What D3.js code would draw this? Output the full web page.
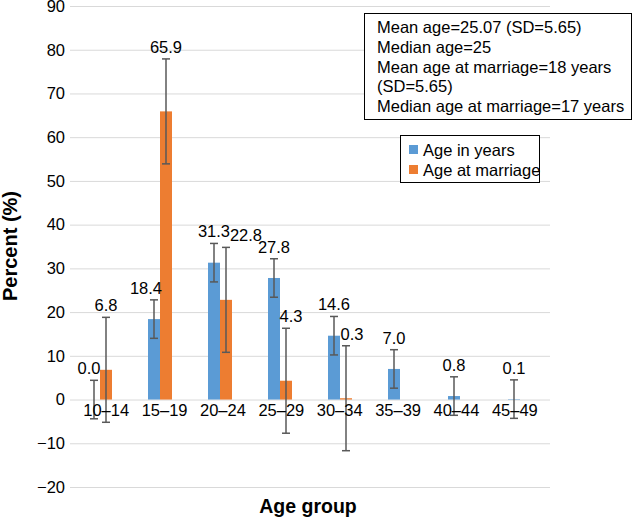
<!DOCTYPE html>
<html>
<head>
<meta charset="utf-8">
<script src="https://cdn.jsdelivr.net/npm/d3@7"></script>
<style>
  body { margin: 0; background: #fff; }
  svg { font-family: "Liberation Sans", Arial, sans-serif; }
</style>
</head>
<body>
<div id="chart"></div>
<script>
var ageGroups = ["10\u201314", "15\u201319", "20\u201324", "25\u201329", "30\u201334", "35\u201339", "40\u201344", "45\u201349"];
var ageInYears = [0.0, 18.4, 31.3, 27.8, 14.6, 7.0, 0.8, 0.1];
var ageInYearsErr = [4.4, 4.4, 4.4, 4.4, 4.4, 4.4, 4.4, 4.4];
var ageAtMarriage = [6.8, 65.9, 22.8, 4.3, 0.3, null, null, null];
var ageAtMarriageErr = [12, 12, 12, 12, 12, null, null, null];
var yTicks = [-20, -10, 0, 10, 20, 30, 40, 50, 60, 70, 80, 90];
var seriesNames = ["Age in years", "Age at marriage"];
var notes = ["Mean age=25.07 (SD=5.65)", "Median age=25", "Mean age at marriage=18 years", "(SD=5.65)", "Median age at marriage=17 years"];

var width = 633, height = 517;
var plotLeft = 70, plotRight = 550, plotTop = 6, plotBottom = 487;
var colors = ["#5b9bd5", "#ed7d31"];
var fs = 16.5;

var svg = d3.select("#chart").append("svg")
    .attr("width", width)
    .attr("height", height);

var x = d3.scaleBand()
    .domain(ageGroups)
    .range([plotLeft, plotRight]);

// category labels sit on a slightly tighter spread than the bars
var xLabel = d3.scaleBand()
    .domain(ageGroups)
    .range([plotLeft + 7, plotRight - 6]);

var y = d3.scaleLinear()
    .domain([-20, 90])
    .range([plotBottom, plotTop]);

var barW = 12;

// gridlines + y labels
var yAxis = svg.append("g")
    .attr("transform", "translate(" + plotLeft + ",0)")
    .call(d3.axisLeft(y).tickValues(yTicks).tickSize(-(plotRight - plotLeft)).tickPadding(5)
        .tickFormat(function(d){ return d < 0 ? "\u2212" + Math.abs(d) : d; }));
yAxis.select(".domain").remove();
yAxis.selectAll("line").attr("stroke", "#d9d9d9").attr("stroke-width", 1);
yAxis.selectAll("text").attr("font-size", fs).attr("fill", "#000")
    .attr("font-family", "Liberation Sans, Arial, sans-serif");

// series table
var series = [
    { name: seriesNames[0], values: ageInYears, err: ageInYearsErr, offset: -barW, color: colors[0] },
    { name: seriesNames[1], values: ageAtMarriage, err: ageAtMarriageErr, offset: 0, color: colors[1] }
];

// small nudges for labels that got pushed sideways
var labelNudge = { "0-0": -5, "0-1": -8, "1-2": 20, "1-3": 5, "1-4": 6 };

function points(s) {
    return s.values.map(function(v, i){ return { v: v, e: s.err[i], cat: ageGroups[i], i: i }; })
        .filter(function(d){ return d.v !== null; });
}

series.forEach(function(s) {
    svg.append("g").selectAll("rect")
        .data(points(s))
        .enter()
            .append("rect")
            .attr("x", function(d){ return x(d.cat) + x.bandwidth() / 2 + s.offset; })
            .attr("width", barW)
            .attr("y", function(d){ return y(Math.max(d.v, 0)); })
            .attr("height", function(d){ return Math.abs(y(d.v) - y(0)); })
            .attr("fill", s.color);
});

series.forEach(function(s, si) {
    var pts = points(s);
    var cx = function(d){ return x(d.cat) + x.bandwidth() / 2 + s.offset + barW / 2; };

    var eg = svg.append("g").attr("stroke", "#595959").attr("stroke-width", 1.5);
    eg.selectAll("line.v").data(pts).enter().append("line")
        .attr("x1", cx).attr("x2", cx)
        .attr("y1", function(d){ return y(d.v + d.e); })
        .attr("y2", function(d){ return y(d.v - d.e); });
    eg.selectAll("line.t").data(pts).enter().append("line")
        .attr("x1", function(d){ return cx(d) - 4; }).attr("x2", function(d){ return cx(d) + 4; })
        .attr("y1", function(d){ return y(d.v + d.e); })
        .attr("y2", function(d){ return y(d.v + d.e); });
    eg.selectAll("line.b").data(pts).enter().append("line")
        .attr("x1", function(d){ return cx(d) - 4; }).attr("x2", function(d){ return cx(d) + 4; })
        .attr("y1", function(d){ return y(d.v - d.e); })
        .attr("y2", function(d){ return y(d.v - d.e); });

    svg.append("g").selectAll("text")
        .data(pts)
        .enter()
            .append("text")
            .attr("x", function(d){ return cx(d) + (labelNudge[si + "-" + d.i] || 0); })
            .attr("y", function(d){ return y(d.v + d.e) - 6; })
            .attr("text-anchor", "middle")
            .attr("font-size", fs)
            .text(function(d){ return d.v.toFixed(1); });
});

// category labels at zero line
var xAxis = svg.append("g")
    .attr("transform", "translate(0," + y(0) + ")")
    .call(d3.axisBottom(xLabel).tickSize(0).tickPadding(5));
xAxis.select(".domain").remove();
xAxis.selectAll("text").attr("font-size", fs).attr("fill", "#000")
    .attr("font-family", "Liberation Sans, Arial, sans-serif");

// axis titles
svg.append("text")
    .attr("transform", "translate(17,246) rotate(-90)")
    .attr("text-anchor", "middle")
    .attr("font-size", 20)
    .attr("font-weight", "bold")
    .text("Percent (%)");

svg.append("text")
    .attr("x", 308)
    .attr("y", 513)
    .attr("text-anchor", "middle")
    .attr("font-size", 19.5)
    .attr("font-weight", "bold")
    .text("Age group");

// notes box
var nb = svg.append("g");
nb.append("rect")
    .attr("x", 364.5).attr("y", 13.5).attr("width", 267).attr("height", 106)
    .attr("fill", "#fff").attr("stroke", "#000").attr("stroke-width", 1);
nb.selectAll("text").data(notes).enter().append("text")
    .attr("x", 377)
    .attr("y", function(d, i){ return 33 + i * 19.8; })
    .attr("font-size", fs)
    .text(function(d){ return d; });

// legend
var lg = svg.append("g");
lg.append("rect")
    .attr("x", 400.5).attr("y", 135.5).attr("width", 139).attr("height", 47)
    .attr("fill", "#fff").attr("stroke", "#000").attr("stroke-width", 1);
seriesNames.forEach(function(n, i) {
    lg.append("rect")
        .attr("x", 409).attr("y", 145 + i * 20).attr("width", 9).attr("height", 9)
        .attr("fill", colors[i]);
    lg.append("text")
        .attr("x", 423).attr("y", 155.5 + i * 20)
        .attr("font-size", fs)
        .text(n);
});
</script>
</body>
</html>
